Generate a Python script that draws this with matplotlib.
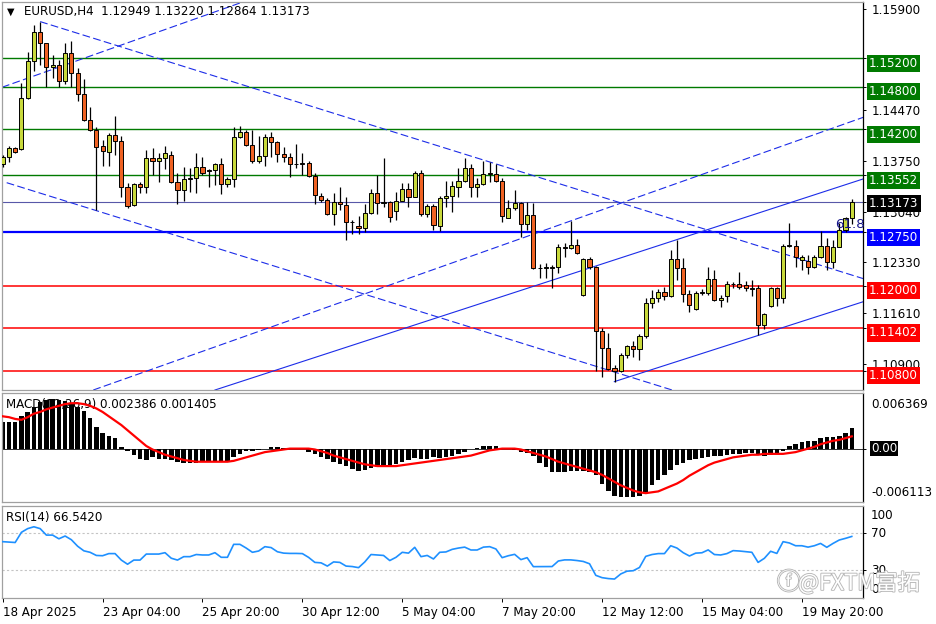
import matplotlib
matplotlib.use('Agg')
import matplotlib.pyplot as plt
import matplotlib.transforms as mtransforms
import matplotlib.patheffects as pe
import numpy as np

W, H = 936, 624
plt.rcParams['font.family'] = ['DejaVu Sans']
plt.rcParams['font.size'] = 8.6

# ---------------- data ----------------
opens = [1.13712, 1.13815, 1.13942, 1.13919, 1.14637, 1.15163, 1.15566, 1.15411, 1.15073, 1.15106,
         1.14886, 1.15280, 1.14989, 1.14693, 1.14332, 1.14191, 1.13965, 1.13886, 1.14120, 1.14041,
         1.13383, 1.13134, 1.13430, 1.13393, 1.13792, 1.13754, 1.13792, 1.13834, 1.13454, 1.13346,
         1.13496, 1.13510, 1.13665, 1.13618, 1.13623, 1.13707, 1.13430, 1.13496, 1.14097, 1.14158,
         1.13980, 1.13759, 1.13829, 1.14097, 1.14017, 1.13848, 1.13806, 1.13712, 1.13707, 1.13721,
         1.13543, 1.13261, 1.13205, 1.13008, 1.13181, 1.13134, 1.12890, 1.12843, 1.12806, 1.13017,
         1.13299, 1.13167, 1.13177, 1.13055, 1.13195, 1.13355, 1.13252, 1.13580, 1.13008, 1.13125,
         1.12839, 1.13228, 1.13261, 1.13393, 1.13472, 1.13651, 1.13393, 1.13430, 1.13566, 1.13566,
         1.13472, 1.12956, 1.13087, 1.13158, 1.12862, 1.12994, 1.12242, 1.12252, 1.12252, 1.12266,
         1.12548, 1.12524, 1.12566, 1.11867, 1.12369, 1.12266, 1.11364, 1.11116, 1.10834, 1.10801,
         1.11022, 1.11153, 1.11101, 1.11294, 1.11749, 1.11820, 1.11904, 1.11857, 1.12369, 1.12242,
         1.11881, 1.11665, 1.11900, 1.11900, 1.12087, 1.11796, 1.11853, 1.12022, 1.12017, 1.12003,
         1.11970, 1.11961, 1.11444, 1.11712, 1.11961, 1.11820, 1.12562, 1.12562, 1.12360, 1.12350,
         1.12266, 1.12407, 1.12562, 1.12336, 1.12548, 1.12782, 1.12949]
highs = [1.13839, 1.13965, 1.13956, 1.14848, 1.15294, 1.15670, 1.15717, 1.15420, 1.15247, 1.15177,
         1.15411, 1.15449, 1.15059, 1.14904, 1.14519, 1.14228, 1.14050, 1.14144, 1.14388, 1.14106,
         1.13440, 1.13449, 1.13463, 1.13909, 1.13933, 1.13862, 1.13965, 1.13900, 1.13580, 1.13674,
         1.13651, 1.13862, 1.13815, 1.13637, 1.13721, 1.13792, 1.13533, 1.14228, 1.14247, 1.14191,
         1.14191, 1.14106, 1.14134, 1.14167, 1.14041, 1.13956, 1.13862, 1.13994, 1.13872, 1.13759,
         1.13580, 1.13299, 1.13228, 1.13299, 1.13393, 1.13252, 1.12923, 1.12979, 1.13149, 1.13355,
         1.13557, 1.13801, 1.13195, 1.13322, 1.13449, 1.13449, 1.13613, 1.13627, 1.13144, 1.13149,
         1.13261, 1.13477, 1.13477, 1.13651, 1.13801, 1.13712, 1.13510, 1.13759, 1.13745, 1.13707,
         1.13510, 1.13205, 1.13346, 1.13181, 1.13181, 1.13158, 1.12303, 1.12313, 1.12289, 1.12580,
         1.12594, 1.12914, 1.12651, 1.12383, 1.12407, 1.12275, 1.11397, 1.11336, 1.10881, 1.11055,
         1.11163, 1.11224, 1.11317, 1.11820, 1.11937, 1.11947, 1.11984, 1.12501, 1.12641, 1.12383,
         1.11937, 1.11928, 1.11947, 1.12266, 1.12219, 1.11867, 1.12069, 1.12055, 1.12186, 1.12069,
         1.12078, 1.12008, 1.11618, 1.11975, 1.11984, 1.12585, 1.12876, 1.12641, 1.12430, 1.12430,
         1.12430, 1.12768, 1.12665, 1.12641, 1.12876, 1.12970, 1.13220]
lows = [1.13674, 1.13745, 1.13862, 1.13909, 1.14623, 1.15027, 1.15106, 1.14801, 1.14919, 1.14801,
        1.14839, 1.14801, 1.14604, 1.14318, 1.14181, 1.13064, 1.13688, 1.13688, 1.13839, 1.13252,
        1.13087, 1.13120, 1.13299, 1.13299, 1.13557, 1.13458, 1.13637, 1.13440, 1.13144, 1.13195,
        1.13322, 1.13308, 1.13557, 1.13383, 1.13416, 1.13285, 1.13393, 1.13383, 1.14073, 1.13965,
        1.13721, 1.13731, 1.13688, 1.13815, 1.13745, 1.13745, 1.13533, 1.13651, 1.13557, 1.13533,
        1.13149, 1.13181, 1.12994, 1.12853, 1.13064, 1.12641, 1.12726, 1.12726, 1.12759, 1.13008,
        1.13008, 1.13111, 1.12900, 1.12923, 1.13195, 1.13102, 1.13242, 1.12979, 1.12970, 1.12782,
        1.12773, 1.13111, 1.13041, 1.13252, 1.13463, 1.13242, 1.13252, 1.13416, 1.13458, 1.13463,
        1.12900, 1.12947, 1.13064, 1.12688, 1.12782, 1.12228, 1.12102, 1.12111, 1.11961, 1.12172,
        1.12407, 1.12510, 1.12444, 1.11853, 1.12228, 1.10801, 1.10707, 1.10810, 1.10646, 1.10787,
        1.10975, 1.10998, 1.10951, 1.11256, 1.11679, 1.11773, 1.11796, 1.11843, 1.12078, 1.11773,
        1.11632, 1.11655, 1.11867, 1.11867, 1.11782, 1.11702, 1.11773, 1.11961, 1.11947, 1.11923,
        1.11853, 1.11303, 1.11383, 1.11693, 1.11712, 1.11749, 1.12538, 1.12266, 1.12219, 1.12158,
        1.12252, 1.12393, 1.12219, 1.12242, 1.12538, 1.12759, 1.12864]
closes = [1.13815, 1.13933, 1.13876, 1.14646, 1.15163, 1.15566, 1.15411, 1.15073, 1.15106, 1.14886,
          1.15280, 1.14989, 1.14693, 1.14332, 1.14191, 1.13956, 1.13895, 1.14120, 1.14041, 1.13383,
          1.13120, 1.13430, 1.13383, 1.13792, 1.13754, 1.13792, 1.13862, 1.13454, 1.13346, 1.13496,
          1.13510, 1.13665, 1.13580, 1.13623, 1.13707, 1.13430, 1.13496, 1.14097, 1.14158, 1.13980,
          1.13759, 1.13829, 1.14088, 1.14017, 1.13848, 1.13815, 1.13712, 1.13707, 1.13721, 1.13543,
          1.13271, 1.13205, 1.13008, 1.13181, 1.13144, 1.12890, 1.12890, 1.12806, 1.13017, 1.13299,
          1.13167, 1.13177, 1.12961, 1.13195, 1.13355, 1.13252, 1.13580, 1.13008, 1.13125, 1.12853,
          1.13228, 1.13261, 1.13402, 1.13472, 1.13651, 1.13393, 1.13430, 1.13566, 1.13580, 1.13472,
          1.12984, 1.13087, 1.13158, 1.12862, 1.12994, 1.12242, 1.12252, 1.12252, 1.12266, 1.12548,
          1.12533, 1.12566, 1.12454, 1.12369, 1.12266, 1.11364, 1.11116, 1.10824, 1.10801, 1.11022,
          1.11153, 1.11101, 1.11294, 1.11749, 1.11820, 1.11904, 1.11857, 1.12369, 1.12242, 1.11881,
          1.11726, 1.11900, 1.11904, 1.12087, 1.11796, 1.11820, 1.12022, 1.12022, 1.11984, 1.11970,
          1.11951, 1.11444, 1.11599, 1.11961, 1.11820, 1.12562, 1.12562, 1.12407, 1.12407, 1.12266,
          1.12407, 1.12562, 1.12336, 1.12548, 1.12782, 1.12947, 1.13173]

macd_main = [0.0030, 0.0030, 0.0030, 0.0037, 0.0042, 0.0048, 0.0053, 0.0056, 0.0057, 0.0056,
             0.0054, 0.0052, 0.0048, 0.0043, 0.0035, 0.0025, 0.0018, 0.0015, 0.0012, 0.0002,
             -0.0003, -0.0007, -0.0012, -0.0013, -0.0010, -0.0012, -0.0012, -0.0013, -0.0015, -0.0017,
             -0.0017, -0.0017, -0.0015, -0.0015, -0.0015, -0.0015, -0.0015, -0.0010, -0.0006, -0.0003,
             -0.0003, -0.0002, -0.0001, 0.0002, 0.0002, 0.0001, 0.00003, 0.00003, -0.0001, -0.0004,
             -0.0006, -0.0010, -0.0012, -0.0015, -0.0018, -0.0020, -0.0023, -0.0026, -0.0025, -0.0022,
             -0.0021, -0.0019, -0.0019, -0.0018, -0.0015, -0.0013, -0.0011, -0.0012, -0.0012, -0.0010,
             -0.0011, -0.0010, -0.0008, -0.0006, -0.0004, -0.00004, 0.0001, 0.0003, 0.00035, 0.00035,
             0.00004, -0.0001, -0.0002, -0.00035, -0.0005, -0.0009, -0.0016, -0.0021, -0.0027, -0.0027,
             -0.0027, -0.0026, -0.0026, -0.0026, -0.0027, -0.0030, -0.0040, -0.0049, -0.0054, -0.0055,
             -0.0055, -0.0055, -0.0054, -0.0050, -0.0042, -0.0036, -0.0030, -0.0025, -0.0019, -0.0016,
             -0.0013, -0.0012, -0.0011, -0.0010, -0.0009, -0.00085, -0.0007, -0.00065, -0.0006, -0.00055,
             -0.00055, -0.00065, -0.0009, -0.0007, -0.00065, -0.0003, 0.00035, 0.0005, 0.0008, 0.0009,
             0.0009, 0.0012, 0.0013, 0.0013, 0.0015, 0.0018, 0.002386]
macd_signal = [0.0037, 0.0036, 0.0034, 0.0033, 0.0036, 0.0040, 0.0042, 0.0045, 0.0047, 0.0049,
               0.0051, 0.0052, 0.0052, 0.0051, 0.0049, 0.0046, 0.0042, 0.0037, 0.0032, 0.0027,
               0.0021, 0.0015, 0.0009, 0.0003, -0.0001, -0.0004, -0.0007, -0.0009, -0.0011, -0.0013,
               -0.0014, -0.0015, -0.0015, -0.0015, -0.0015, -0.0015, -0.0015, -0.0014, -0.0012, -0.0010,
               -0.0008, -0.0006, -0.0004, -0.0003, -0.0002, -0.0001, 0.0, 0.0, 0.0, 0.0,
               -0.0001, -0.0003, -0.0005, -0.0008, -0.0010, -0.0012, -0.0014, -0.0016, -0.0018, -0.0019,
               -0.0020, -0.0020, -0.0020, -0.0020, -0.0019, -0.0018, -0.0017, -0.0016, -0.0015, -0.0014,
               -0.0013, -0.0012, -0.0011, -0.0010, -0.0009, -0.0008, -0.0006, -0.0004, -0.0002, -0.0001,
               0.0, 0.0, 0.0, -0.0001, -0.0003, -0.0005, -0.0007, -0.0009, -0.0012, -0.0015,
               -0.0017, -0.0019, -0.0021, -0.0023, -0.0025, -0.0027, -0.0030, -0.0034, -0.0038, -0.0042,
               -0.0045, -0.0048, -0.0050, -0.0051, -0.0050, -0.0049, -0.0046, -0.0043, -0.0040, -0.0036,
               -0.0031, -0.0027, -0.0023, -0.0019, -0.0016, -0.0014, -0.0012, -0.0010, -0.0009, -0.0008,
               -0.0007, -0.0007, -0.0006, -0.0006, -0.0006, -0.0006, -0.0005, -0.0004, -0.0002, 0.0,
               0.0002, 0.0005, 0.0007, 0.0009, 0.0010, 0.0012, 0.001405]
rsi = [60.9, 60.5, 60.0, 71.0, 75.0, 77.0, 75.0, 68.0, 68.0, 64.0,
       67.0, 63.0, 56.0, 51.0, 49.4, 46.0, 45.7, 48.0, 48.0, 41.0,
       36.5, 41.0, 41.0, 47.5, 47.5, 47.5, 49.0, 43.0, 41.0, 44.7,
       44.7, 47.0, 46.5, 46.5, 49.0, 44.0, 44.0, 58.0, 58.0, 54.0,
       49.4, 50.8, 55.5, 54.5, 50.0, 48.5, 48.2, 48.2, 48.0, 43.9,
       38.5, 38.0, 34.5, 39.0, 38.5, 34.5, 34.0, 32.8, 39.0, 47.0,
       46.5, 46.0, 40.5, 44.0, 49.4, 48.5, 54.8, 44.7, 46.0, 42.2,
       49.4, 49.8, 52.6, 54.0, 55.0, 51.9, 51.9, 55.0, 55.5, 53.0,
       43.6, 45.7, 47.2, 41.5, 43.6, 33.9, 33.9, 33.9, 34.0, 40.0,
       41.2, 41.2, 40.5, 39.5, 37.0, 24.5, 22.0, 21.0, 20.5, 26.0,
       29.0, 29.5, 33.0, 45.0, 47.0, 48.0, 48.0, 56.5, 54.0, 49.0,
       45.4, 48.5, 48.9, 52.0, 47.0, 46.5, 48.0, 51.2, 50.8, 50.1,
       49.4, 38.5, 42.9, 50.5, 48.2, 60.9, 59.5, 56.5, 56.5, 55.0,
       56.5, 59.0, 54.8, 59.0, 62.7, 64.5, 66.542]

date_ticks = [0, 16, 32, 48, 64, 80, 96, 112, 128]
date_labels = ['18 Apr 2025', '23 Apr 04:00', '25 Apr 20:00', '30 Apr 12:00', '5 May 04:00',
               '7 May 20:00', '12 May 12:00', '15 May 04:00', '19 May 20:00']

green_levels = [1.15200, 1.14800, 1.14200, 1.13552]
red_levels = [1.12000, 1.11402, 1.10800]
blue_level = 1.12750
bid_level = 1.13173
plain_price_ticks = [1.15900, 1.14470, 1.13750, 1.13040, 1.12330, 1.11610, 1.10900]

# trend lines: (bar0, price0, bar1, price1)
dashed_lines = [(6.0, 1.15717, 137.8, 1.12098),
                (-0.11, 1.14792, 40.0, 1.16041),
                (14.51, 1.10528, 137.85, 1.14369),
                (0.64, 1.13448, 107.7, 1.10515)]
solid_lines = [(34.0, 1.10528, 137.8, 1.13500),
               (97.97, 1.10646, 137.85, 1.11772)]
fibo_text = ('61.8', 133.3, 1.12860)

# ---------------- layout ----------------
fig = plt.figure(figsize=(W / 100, H / 100), dpi=100)
fig.patch.set_facecolor('white')


def rect(top, bottom, left=2, right=863):
    return [left / W, 1 - bottom / H, (right - left) / W, (bottom - top) / H]


ax = fig.add_axes(rect(2, 390))
axm = fig.add_axes(rect(393, 502), sharex=ax)
axr = fig.add_axes(rect(505.5, 598), sharex=ax)

for a in (ax, axm, axr):
    for s in ('left', 'top', 'bottom'):
        a.spines[s].set_color('#a0a0a0')
        a.spines[s].set_linewidth(0.9)
    a.spines['right'].set_color('black')
    a.spines['right'].set_linewidth(0.9)
    a.yaxis.tick_right()
    a.tick_params(axis='y', length=2.5, width=0.7, pad=4, colors='black')
    a.tick_params(axis='x', bottom=False, labelbottom=False)

idx = np.arange(len(opens))
o = np.array(opens); hh = np.array(highs); ll = np.array(lows); c = np.array(closes)
bull = c >= o
bull_c, bear_c = '#c8d93c', '#ef6223'

ax.set_xlim(-0.11, 137.8)
ax.set_ylim(1.105282, 1.159930)

# horizontal levels
for lv in green_levels:
    ax.axhline(lv, color='#007a00', lw=1.0, zorder=1)
for lv in red_levels:
    ax.axhline(lv, color='#ff0000', lw=1.1, zorder=1)
ax.axhline(blue_level, color='#0000ff', lw=1.6, zorder=1)
ax.axhline(bid_level, color='#5858a8', lw=0.8, zorder=1)

for (x0, y0, x1, y1) in dashed_lines:
    ax.plot([x0, x1], [y0, y1], color='#1c2ce8', lw=0.8, ls=(0, (7, 3)), zorder=1.5)
for (x0, y0, x1, y1) in solid_lines:
    ax.plot([x0, x1], [y0, y1], color='#1c2ce8', lw=0.8, zorder=1.5)

# candles
ax.vlines(idx, ll, hh, color='black', lw=0.9, zorder=3)
body_b = np.minimum(o, c)
body_h = np.maximum(np.abs(c - o), 0.00002)
ax.bar(idx, body_h, bottom=body_b, width=0.66,
       color=np.where(bull, bull_c, bear_c), edgecolor='black', linewidth=0.7, zorder=4)

ax.text(fibo_text[1], fibo_text[2], fibo_text[0], color='#16168a', fontsize=9.6,
        ha='left', va='center', zorder=6)

# right price axis
ax.set_yticks(plain_price_ticks + green_levels + red_levels + [blue_level, bid_level])
ax.set_yticklabels(['%.5f' % v for v in plain_price_ticks] + [''] * 9)

btrans = mtransforms.blended_transform_factory(ax.transAxes, ax.transData)
off_tr = mtransforms.offset_copy(btrans, fig=fig, x=6, y=-5, units='dots')
off_tr0 = mtransforms.offset_copy(btrans, fig=fig, x=6, y=-1, units='dots')
boxes = [(lv, '#007a00', off_tr) for lv in green_levels] + \
        [(lv, '#ff0000', off_tr) for lv in red_levels] + \
        [(blue_level, '#0000ff', off_tr), (bid_level, 'black', off_tr0)]
for lv, col, tr in boxes:
    ax.text(1.0, lv, '%.5f' % lv, transform=tr, color='white', ha='left', va='center',
            fontsize=8.6, clip_on=False, zorder=10,
            bbox=dict(boxstyle='square,pad=0.18', fc=col, ec='none'))

# ---------------- MACD ----------------
axm.set_ylim(-0.006113, 0.006369)
axm.axhline(0, color='#303030', lw=0.7, zorder=1.5)
axm.text(4 / 861, 0.89, 'MACD(12,26,9) 0.002386 0.001405', transform=axm.transAxes,
         ha='left', va='center', fontsize=8.6, zorder=0.5)
axm.bar(idx, macd_main, width=0.72, color='black', zorder=2)
axm.plot(idx, macd_signal, color='#ff0000', lw=1.6, zorder=3)
axm.set_yticks([0.0])
axm.set_yticklabels([''])
mtrans = mtransforms.blended_transform_factory(axm.transAxes, axm.transAxes)
axm.text(1.0 + 8 / 861, 0.89, '0.006369', transform=mtrans, ha='left', va='center', clip_on=False)
axm.text(1.0 + 8 / 861, 0.09, '-0.006113', transform=mtrans, ha='left', va='center', clip_on=False)
mtr0 = mtransforms.blended_transform_factory(axm.transAxes, axm.transData)
axm.text(1.0 + 8 / 861, 0.0, '0.00', transform=mtr0, ha='left', va='center', color='white',
         clip_on=False, bbox=dict(boxstyle='square,pad=0.1', fc='black', ec='none'))

# ---------------- RSI ----------------
axr.set_ylim(0, 100)
for lv in (70, 30):
    axr.axhline(lv, color='#c4c4c4', lw=0.8, ls=(0, (2, 2)), zorder=1)
axr.plot(idx, rsi, color='#1e90ff', lw=1.2, zorder=3)
axr.text(4 / 861, 0.87, 'RSI(14) 66.5420', transform=axr.transAxes, ha='left', va='center')
axr.set_yticks([70, 30])
axr.set_yticklabels(['', ''])
rtr = mtransforms.blended_transform_factory(axr.transAxes, axr.transAxes)
for txt, yf in (('100', 0.895), ('70', 0.70), ('30', 0.30), ('0', 0.09)):
    axr.text(1.0 + 8 / 861, yf, txt, transform=rtr, ha='left', va='center', clip_on=False)

axr.set_xticks(date_ticks)
axr.set_xticklabels(date_labels)
axr.tick_params(axis='x', bottom=True, labelbottom=True, length=3, width=0.7, pad=2.5,
                colors='black')
for lab in axr.get_xticklabels():
    lab.set_horizontalalignment('left')

# header
fig.text(7 / W, 1 - 12 / H, '▼', fontsize=7, ha='left', va='center')
fig.text(24 / W, 1 - 12 / H, 'EURUSD,H4  1.12949 1.13220 1.12864 1.13173',
         fontsize=8.6, ha='left', va='center')

# watermark
fig.text(777 / W, 1 - 583 / H, 'ⓕ', fontsize=17, ha='left', va='center', color='white',
         family=['Noto Sans CJK SC', 'DejaVu Sans'],
         path_effects=[pe.withStroke(linewidth=1.3, foreground='#b8b8b8')], zorder=20)
fig.text(798 / W, 1 - 583 / H, '@FXTM富拓', fontsize=16, ha='left', va='center', color='white',
         family=['Noto Sans CJK SC', 'DejaVu Sans'],
         path_effects=[pe.withStroke(linewidth=1.3, foreground='#b8b8b8')], zorder=20)

fig.savefig('out.png', dpi=100, facecolor='white')
